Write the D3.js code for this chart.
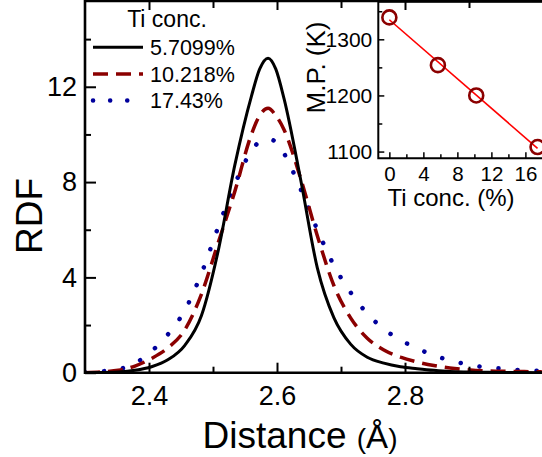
<!DOCTYPE html>
<html>
<head>
    <meta charset="utf-8">
    <title>RDF</title>
    <script src="https://d3js.org/d3.v7.min.js"></script>
    <style>
        body { margin: 0; background: #fff; }
        text { font-family: "Liberation Sans", Arial, sans-serif; }
    </style>
</head>
<body>
<div id="chart"></div>
<script type="text/javascript">
    // distances (Å) where the curves were read
    let distance = [2.300, 2.327, 2.352, 2.378, 2.404, 2.430, 2.456, 2.482, 2.508, 2.534,
                    2.560, 2.573, 2.586, 2.598, 2.611, 2.637, 2.663, 2.689, 2.715, 2.741,
                    2.767, 2.793, 2.819, 2.845, 2.870, 2.896, 2.922, 2.948, 2.974, 3.000, 3.026];

    let rdf57 = [0.0, 0.01, 0.03, 0.10, 0.25, 0.55, 1.15, 2.4, 5.1, 8.7,
                 11.6, 12.75, 13.2, 12.75, 11.5, 8.1, 4.4, 2.3, 1.2, 0.65,
                 0.4, 0.25, 0.17, 0.1, 0.05, 0.03, 0.02, 0.01, 0.01, 0.0, 0.0];

    let rdf102 = [0.0, 0.04, 0.10, 0.28, 0.6, 1.05, 1.8, 3.3, 5.45, 7.6,
                  10.0, 10.8, 11.1, 10.8, 10.2, 8.15, 5.75, 3.65, 2.3, 1.45,
                  0.95, 0.65, 0.45, 0.3, 0.2, 0.13, 0.08, 0.06, 0.05, 0.04, 0.03];

    let rdf174 = [0.02, 0.06, 0.14, 0.39, 0.9, 1.62, 2.62, 4.17, 6.1, 7.9,
                  9.3, 9.7, 9.8, 9.7, 9.2, 7.7, 6.0, 4.5, 3.37, 2.48,
                  1.83, 1.37, 1.02, 0.73, 0.52, 0.36, 0.24, 0.18, 0.12, 0.09, 0.07];

    let seriesNames = ["5.7099%", "10.218%", "17.43%"];

    // inset: melting point vs Ti concentration
    let tiConc = [0, 5.7099, 10.218, 17.43];
    let meltPoint = [1339, 1254, 1200, 1108];

    let xTicks = [2.4, 2.6, 2.8];
    let xMinor = [2.5, 2.7, 2.9];
    let yTicks = [0, 4, 8, 12];
    let yMinor = [2, 6, 10, 14];
    let insetXTicks = [0, 4, 8, 12, 16];
    let insetXMinor = [2, 6, 10, 14, 18];
    let insetYTicks = [1100, 1200, 1300];
    let insetYMinor = [1150, 1250, 1350];

    let W = 542, H = 457;

    let svg = d3.select("#chart")
        .append("svg")
        .attr("width", W)
        .attr("height", H);

    svg.append("rect").attr("width", W).attr("height", H).attr("fill", "#fff");

    // main plot area
    let pLeft = 85, pRight = 555, pTop = 1, pBottom = 372.7;

    let x = d3.scaleLinear().domain([2.3, 3.0]).range([pLeft, pLeft + 0.7 * 640]);
    let y = d3.scaleLinear().domain([0, 15.6]).range([pBottom, pTop]);

    svg.append("clipPath").attr("id", "clip")
        .append("rect")
        .attr("x", pLeft).attr("y", pTop)
        .attr("width", pRight - pLeft).attr("height", pBottom - pTop);

    let series = [
        {name: seriesNames[0], values: rdf57, color: "#000000", dash: null, width: 3},
        {name: seriesNames[1], values: rdf102, color: "#8b0000", dash: "15,8", width: 3.5},
        {name: seriesNames[2], values: rdf174, color: "#00009c", dash: "0.1,19", width: 4.5}
    ];

    let line = d3.line()
        .x(function(d){ return x(d[0]); })
        .y(function(d){ return y(d[1]); })
        .curve(d3.curveMonotoneX);

    let curves = svg.append("g").attr("clip-path", "url(#clip)");

    // dotted first, solid on top
    series.slice().reverse().forEach(function(s){
        curves.append("path")
            .datum(distance.map(function(d, i){ return [d, s.values[i]]; }))
            .attr("d", line)
            .attr("fill", "none")
            .attr("stroke", s.color)
            .attr("stroke-width", s.width)
            .attr("stroke-dasharray", s.dash)
            .attr("stroke-linecap", s.dash === "0.1,19" ? "round" : "butt");
    });

    function styleAxis(g, fontSize, lineWidth){
        g.select(".domain").remove();
        g.selectAll("line").attr("stroke", "#000").attr("stroke-width", lineWidth);
        g.selectAll("text").attr("font-size", fontSize).attr("fill", "#000")
            .style("font-family", "'Liberation Sans', Arial, sans-serif");
    }

    // bottom axis
    svg.append("g")
        .attr("transform", "translate(0," + pBottom + ")")
        .call(d3.axisBottom(x).tickValues(xTicks).tickSize(-10).tickPadding(13).tickFormat(d3.format(".1f")))
        .call(styleAxis, "27px", 2);
    svg.append("g")
        .attr("transform", "translate(0," + pBottom + ")")
        .call(d3.axisBottom(x).tickValues(xMinor).tickSize(-6).tickFormat(""))
        .call(styleAxis, "27px", 2);

    // top mirror ticks
    svg.append("g")
        .attr("transform", "translate(0," + pTop + ")")
        .call(d3.axisTop(x).tickValues(xTicks).tickSize(-9).tickFormat(""))
        .call(styleAxis, "27px", 2);
    svg.append("g")
        .attr("transform", "translate(0," + pTop + ")")
        .call(d3.axisTop(x).tickValues(xMinor).tickSize(-7).tickFormat(""))
        .call(styleAxis, "27px", 2);

    // left axis
    svg.append("g")
        .attr("transform", "translate(" + pLeft + ",0)")
        .call(d3.axisLeft(y).tickValues(yTicks).tickSize(-11).tickPadding(8))
        .call(styleAxis, "27px", 2);
    svg.append("g")
        .attr("transform", "translate(" + pLeft + ",0)")
        .call(d3.axisLeft(y).tickValues(yMinor).tickSize(-6).tickFormat(""))
        .call(styleAxis, "27px", 2);

    // frame
    svg.append("path")
        .attr("d", "M" + pRight + "," + pTop + "H" + pLeft + "V" + pBottom + "H" + pRight)
        .attr("fill", "none")
        .attr("stroke", "#000")
        .attr("stroke-width", 2.6);

    // axis titles
    let xTitle = svg.append("text")
        .attr("x", 300)
        .attr("y", 448)
        .attr("text-anchor", "middle")
        .attr("font-size", "37px");
    xTitle.append("tspan").text("Distance ");
    xTitle.append("tspan").attr("font-size", "28px").text("(");
    xTitle.append("tspan").attr("font-size", "33px").text("Å");
    xTitle.append("tspan").attr("font-size", "28px").text(")");

    svg.append("text")
        .attr("transform", "translate(42,216) rotate(-90)")
        .attr("text-anchor", "middle")
        .attr("font-size", "37px")
        .text("RDF");

    // legend
    svg.append("text")
        .attr("x", 167)
        .attr("y", 27)
        .attr("text-anchor", "middle")
        .attr("font-size", "23px")
        .text("Ti conc.");

    let legendY = [47.3, 74, 100.5];
    series.forEach(function(s, i){
        svg.append("line")
            .attr("x1", 93).attr("x2", 143)
            .attr("y1", legendY[i]).attr("y2", legendY[i])
            .attr("stroke", s.color)
            .attr("stroke-width", s.width)
            .attr("stroke-dasharray", s.dash === "0.1,19" ? "0.1,17" : s.dash)
            .attr("stroke-linecap", s.dash === "0.1,19" ? "round" : "butt");
        svg.append("text")
            .attr("x", 150)
            .attr("y", legendY[i] + 7.5)
            .attr("font-size", "21.5px")
            .text(s.name);
    });

    // inset
    let iLeft = 378.3, iRight = 547.5, iTop = 1.7, iBottom = 158.3;
    let ix = d3.scaleLinear().domain([-1.3, 18.6]).range([iLeft, iRight]);
    let iy = d3.scaleLinear().domain([1088, 1367]).range([iBottom, iTop]);

    svg.append("g")
        .attr("transform", "translate(0," + iBottom + ")")
        .call(d3.axisBottom(ix).tickValues(insetXTicks).tickSize(-6).tickPadding(8))
        .call(styleAxis, "20.5px", 1.5);
    svg.append("g")
        .attr("transform", "translate(0," + iBottom + ")")
        .call(d3.axisBottom(ix).tickValues(insetXMinor).tickSize(-4).tickFormat(""))
        .call(styleAxis, "20.5px", 1.5);
    svg.append("g")
        .attr("transform", "translate(" + iLeft + ",0)")
        .call(d3.axisLeft(iy).tickValues(insetYTicks).tickSize(-6).tickPadding(6).tickFormat(d3.format("d")))
        .call(styleAxis, "21px", 1.5);
    svg.append("g")
        .attr("transform", "translate(" + iLeft + ",0)")
        .call(d3.axisLeft(iy).tickValues(insetYMinor).tickSize(-4).tickFormat(""))
        .call(styleAxis, "21px", 1.5);

    svg.append("path")
        .attr("d", "M" + iRight + "," + iTop + "H" + iLeft + "V" + iBottom + "H" + iRight)
        .attr("fill", "none")
        .attr("stroke", "#000")
        .attr("stroke-width", 2);

    // least squares fit through the inset points
    let mx = d3.mean(tiConc), my = d3.mean(meltPoint);
    let sxy = d3.sum(tiConc, function(d, i){ return (d - mx) * (meltPoint[i] - my); });
    let sxx = d3.sum(tiConc, function(d){ return (d - mx) * (d - mx); });
    let slope = sxy / sxx, icpt = my - slope * mx;
    let xEnds = d3.extent(tiConc);

    svg.append("line")
        .attr("x1", ix(xEnds[0])).attr("y1", iy(icpt + slope * xEnds[0]))
        .attr("x2", ix(xEnds[1])).attr("y2", iy(icpt + slope * xEnds[1]))
        .attr("stroke", "#ff0000")
        .attr("stroke-width", 1.6);

    svg.selectAll("circle.mp")
        .data(tiConc)
        .enter()
        .append("circle")
        .attr("class", "mp")
        .attr("cx", function(d){ return ix(d); })
        .attr("cy", function(d, i){ return iy(meltPoint[i]); })
        .attr("r", 7)
        .attr("fill", "none")
        .attr("stroke", "#8b0000")
        .attr("stroke-width", 2.6);

    svg.append("text")
        .attr("x", 451)
        .attr("y", 206)
        .attr("text-anchor", "middle")
        .attr("font-size", "24px")
        .text("Ti conc. (%)");

    svg.append("text")
        .attr("transform", "translate(325,67.5) rotate(-90)")
        .attr("text-anchor", "middle")
        .attr("font-size", "26px")
        .text("M.P. (K)");
</script>
</body>
</html>
